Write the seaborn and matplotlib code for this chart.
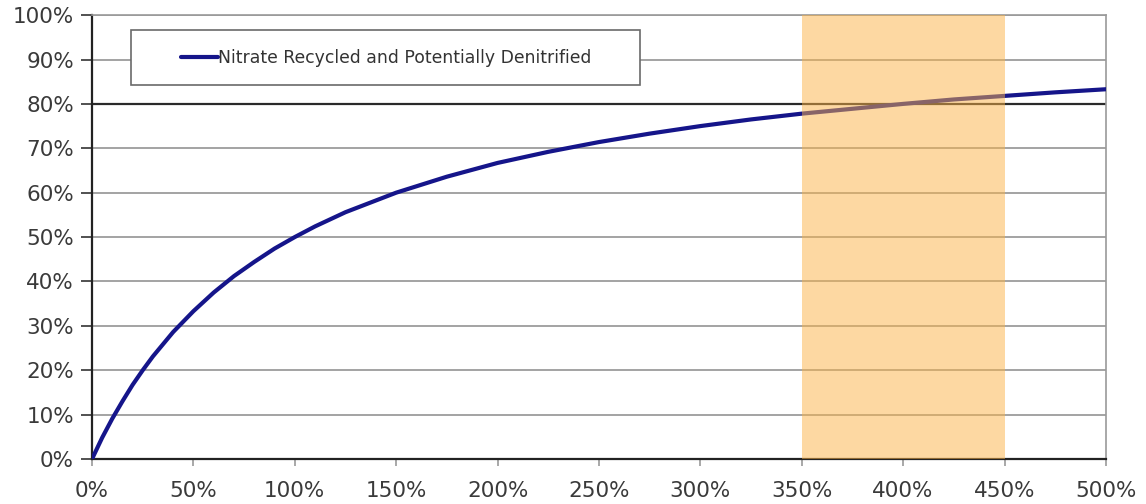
import matplotlib
matplotlib.use("Agg")
import matplotlib.pyplot as plt
from matplotlib.patches import Rectangle
from matplotlib.ticker import PercentFormatter
import seaborn as sns
import pandas as pd

# Recycle ratio (%) and the share of nitrate recycled / potentially denitrified (%)
recycle_ratio = [0, 5, 10, 15, 20, 25, 30, 40, 50, 60, 70, 80, 90, 100,
                 110, 125, 150, 175, 200, 225, 250, 275, 300, 325, 350,
                 375, 400, 425, 450, 475, 500]
nitrate_share = [0.0, 4.8, 9.1, 13.0, 16.7, 20.0, 23.1, 28.6, 33.3, 37.5, 41.2, 44.4, 47.4, 50.0,
                 52.4, 55.6, 60.0, 63.6, 66.7, 69.2, 71.4, 73.3, 75.0, 76.5, 77.8,
                 78.9, 80.0, 81.0, 81.8, 82.6, 83.3]
series_label = "Nitrate Recycled and Potentially Denitrified"

# Recommended operating range (recycle ratio, %)
range_start, range_end = 350, 450

x_ticks = list(range(0, 501, 50))
y_ticks = list(range(0, 101, 10))

df = pd.DataFrame({"ratio": recycle_ratio, "share": nitrate_share})

sns.set_theme(style="white")
plt.rcParams["font.family"] = ["DejaVu Sans"]

fig = plt.figure(figsize=(11.46, 5.04), dpi=100)
ax = fig.add_axes([0.0803, 0.0893, 0.8847, 0.8807])

# horizontal grid
for y in y_ticks[1:]:
    ax.axhline(y, color="#8a8a8a", lw=1.1, zorder=1)
ax.axhline(80, color="#2a2a2a", lw=1.6, zorder=1.1)

sns.lineplot(data=df, x="ratio", y="share", ax=ax, color="#15158a", lw=3.0,
             zorder=3, legend=False)

ax.axvspan(range_start, range_end, ymin=0, ymax=1, color="#fcb347", alpha=0.5,
           lw=0, zorder=4)

ax.set_xlim(0, 500)
ax.set_ylim(0, 100)
ax.set_xticks(x_ticks)
ax.set_yticks(y_ticks)
ax.xaxis.set_major_formatter(PercentFormatter(decimals=0))
ax.yaxis.set_major_formatter(PercentFormatter(decimals=0))
ax.set_xlabel("")
ax.set_ylabel("")

ax.tick_params(axis="y", which="major", direction="out", length=8, width=1.2,
               color="#333333", pad=5, labelsize=15.5, labelcolor="#3a3a3a", left=True)
ax.tick_params(axis="x", which="major", direction="out", length=5, width=1.2,
               color="#9a9a9a", pad=11, labelsize=15.5, labelcolor="#3a3a3a", bottom=True)

for side in ["left", "bottom"]:
    ax.spines[side].set_color("#222222")
    ax.spines[side].set_linewidth(1.6)
for side in ["top", "right"]:
    ax.spines[side].set_color("#9a9a9a")
    ax.spines[side].set_linewidth(1.2)

# legend box
box = Rectangle((0.0385, 84.2), 0.5015, 12.4, transform=ax.get_yaxis_transform(),
                facecolor="white", edgecolor="#6a6a6a", lw=1.2, zorder=5)
ax.add_patch(box)
handle = plt.Line2D([], [], color="#15158a", lw=3.0)
leg = ax.legend([handle], [series_label], loc="center",
                bbox_to_anchor=(0.29, 0.904), frameon=False, fontsize=12.4,
                handlelength=2.15, handletextpad=0.0, borderpad=0)
leg.set_zorder(6)
for t in leg.get_texts():
    t.set_color("#333333")

fig.savefig("out.png", dpi=100)
